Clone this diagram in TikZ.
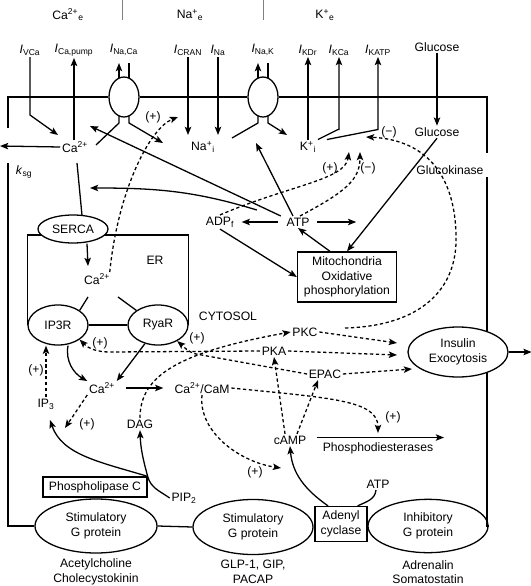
\documentclass[tikz,border=0pt]{standalone}
\usepackage{fontspec}
\setmainfont{Liberation Sans}
\usetikzlibrary{arrows.meta,shapes.geometric,calc}

\newcommand{\curr}[1]{\textit{I}\textsubscript{#1}}

\tikzset{
  lbl/.style={inner sep=1pt, align=center},
  oval/.style={ellipse, draw, fill=white, inner sep=0pt, align=center},
  plainbox/.style={rectangle, draw, fill=white, inner sep=0pt, align=center},
  dasharrow/.style={->, dash pattern=on 2.8pt off 2.2pt},
}

\begin{document}
\begin{tikzpicture}[x=0.03cm, y=-0.03cm, line width=1.1pt,
    >={Stealth[length=7pt,width=5.5pt,inset=1.5pt]},
    font=\fontsize{10.4}{12.5}\selectfont]
    \useasboundingbox (0,0) rectangle (531,586);

    % outside ions
    \node[lbl] (cae) at (68,15) {Ca\textsuperscript{2+}\textsubscript{e}};
    \node[lbl] (nae) at (190,15) {Na\textsuperscript{+}\textsubscript{e}};
    \node[lbl] (ke) at (325,15) {K\textsuperscript{+}\textsubscript{e}};
    \draw[gray, line width=0.8pt] (122,0) -- (122,20);
    \draw[gray, line width=0.8pt] (263,0) -- (263,20);

    % membrane currents
    \node[lbl] (ivca) at (30,50) {\curr{VCa}};
    \node[lbl] (icapump) at (74,50) {\curr{Ca,pump}};
    \node[lbl] (inaca) at (124,50) {\curr{Na,Ca}};
    \node[lbl] (icran) at (188,50) {\curr{CRAN}};
    \node[lbl] (ina) at (218,50) {\curr{Na}};
    \node[lbl] (inak) at (263,50) {\curr{Na,K}};
    \node[lbl] (ikdr) at (308,50) {\curr{KDr}};
    \node[lbl] (ikca) at (339,50) {\curr{KCa}};
    \node[lbl] (ikatp) at (378,50) {\curr{KATP}};
    \node[lbl] (glue) at (437,47) {Glucose};

    % G proteins at the bottom
    \node[oval, minimum width=3.66cm, minimum height=1.62cm] (stimL) at (96,526) {Stimulatory\\G protein};
    \node[oval, minimum width=3.6cm, minimum height=1.65cm] (stimM) at (253,527) {Stimulatory\\G protein};
    \node[plainbox, minimum width=1.56cm, minimum height=1.05cm] (ac) at (341,524) {Adenyl\\cyclase};
    \node[oval, minimum width=3.6cm, minimum height=1.6cm] (inhib) at (428,526) {Inhibitory\\G protein};
    \node[lbl] (ligL) at (96,572) {Acetylcholine\\Cholecystokinin};
    \node[lbl] (ligM) at (253,572) {GLP-1, GIP,\\PACAP};
    \node[lbl] (ligR) at (428,572) {Adrenalin\\Somatostatin};

    % cell membrane
    \node[oval, minimum width=0.9cm, minimum height=1.2cm] (nca) at (124,97) {};
    \node[oval, minimum width=0.9cm, minimum height=1.2cm] (nak) at (263,97) {};
    \draw (8,128) -- (8,97) -- (nca.west);
    \draw (nca.east) -- (nak.west);
    \draw (nak.east) -- (487,97) -- (487,153);
    \draw (8,163) |- (stimL.west);
    \draw (stimL.east) -- (stimM.west);
    \draw (487,177) |- (inhib.east);

    % exchanger and pump
    \begin{scope}[shift={(nca.center)}]
        \draw[->] (-5,-19) -- (-5,-34);
        \draw (5,-19) -- (5,-34);
        \draw (-5,19) -- (-5,26) -- (-28,48);
        \draw[->] (5,19) -- (5,26) -- (39,46);
    \end{scope}
    \begin{scope}[shift={(nak.center)}]
        \draw[->] (-5,-19) -- (-5,-34);
        \draw (5,-19) -- (5,-34);
        \draw (-5,19) -- (-5,26) -- (-31,41);
        \draw[->] (5,19) -- (5,26) -- (24,38);
    \end{scope}

    % cytosol
    \node[lbl] (cai) at (75,147) {Ca\textsuperscript{2+}};
    \node[lbl] (nai) at (203,147) {Na\textsuperscript{+}\textsubscript{i}};
    \node[lbl] (ki) at (308,147) {K\textsuperscript{+}\textsubscript{i}};
    \node[lbl] (glui) at (437,132) {Glucose};
    \node[lbl] (gk) at (450,170) {Glucokinase};
    \node[lbl] (ksg) at (24,172) {\textit{k}\textsubscript{sg}};
    \node[lbl] (adp) at (220,222) {ADP\textsubscript{f}};
    \node[lbl] (atp) at (298,222) {ATP};
    \node[plainbox, minimum width=2.97cm, minimum height=1.5cm] (mito) at (347,277) {Mitochondria\\Oxidative\\phosphorylation};
    \node[lbl] (cytosol) at (228,316) {CYTOSOL};

    % ER
    \node[lbl] (caer) at (97,279) {Ca\textsuperscript{2+}};
    \node[lbl] (er) at (155,260) {ER};
    \node[oval, minimum width=1.8cm, minimum height=1.2cm] (ip3r) at (58,325) {IP3R};
    \node[oval, minimum width=1.8cm, minimum height=1.2cm] (ryar) at (158,325) {RyaR};
    \coordinate (ertop) at (0,235);
    \draw (ip3r.west) -- (ip3r.west |- ertop) -- (ryar.east |- ertop) -- (ryar.east);
    \node[oval, minimum width=2.1cm, minimum height=0.84cm] (serca) at (73,229) {SERCA};

    % second messengers
    \node[lbl] (cac) at (102,388) {Ca\textsuperscript{2+}};
    \node[lbl] (cam) at (202,388) {Ca\textsuperscript{2+}/CaM};
    \node[lbl] (ip3) at (46,404) {IP\textsubscript{3}};
    \node[lbl] (dag) at (140,424) {DAG};
    \node[lbl] (pkc) at (305,332) {PKC};
    \node[lbl] (pka) at (274,351) {PKA};
    \node[lbl] (epac) at (325,374) {EPAC};
    \node[lbl] (camp) at (290,440) {cAMP};
    \node[lbl] (pde) at (378,448) {Phosphodiesterases};
    \node[lbl] (atpb) at (378,484) {ATP};
    \node[plainbox, minimum width=3.12cm, minimum height=0.6cm] (plc) at (95,487) {Phospholipase C};
    \node[lbl] (pip) at (184,498) {PIP\textsubscript{2}};
    \node[oval, minimum width=3cm, minimum height=1.5cm] (insulin) at (458,352) {Insulin\\Exocytosis};

    % signs
    \node[lbl] (s1) at (153,117) {(+)};
    \node[lbl] (s2) at (389,132) {(−)};
    \node[lbl] (s3) at (330,168) {(+)};
    \node[lbl] (s4) at (368,168) {(−)};
    \node[lbl] (s5) at (36,370) {(+)};
    \node[lbl] (s6) at (100,343) {(+)};
    \node[lbl] (s7) at (197,338) {(+)};
    \node[lbl] (s8) at (87,424) {(+)};
    \node[lbl] (s9) at (393,417) {(+)};
    \node[lbl] (s10) at (255,472) {(+)};

    % free ends
    \coordinate (vcaend) at (58,135);
    \coordinate (leak) at (0,146);
    \coordinate (nakin) at (256,143);
    \coordinate (caup) at (90,126);
    \coordinate (caleft) at (90,188);
    \coordinate (erup) at (178,117);
    \coordinate (kin1) at (349,152);
    \coordinate (kin2) at (360,152);
    \coordinate (kin3) at (366,137);
    \coordinate (gkstart) at (345,328);
    \coordinate (ins1) at (397,343);
    \coordinate (ins2) at (397,355);
    \coordinate (ins3) at (412,369);
    \coordinate (pdetip) at (378,433);
    \coordinate (camptip) at (281,468);
    \coordinate (ip3tip) at (65,428);
    \coordinate (ip3in) at (50,420);

    % calcium and sodium
    \draw[->] (ivca.south) -- ++(0,58) -- (vcaend);
    \draw[->] (icapump |- cai.north) -- (icapump.south);
    \draw[->] (cai.west) -- (leak);
    \draw ($(cai.south)+(2,9)$) -- ($(serca.north)+(9,1)$);
    \draw[->] (icran.south) -- ++(0,78);
    \draw[->] (ina.south) -- ++(0,78);

    % potassium
    \draw[->] (ikdr |- ki.north) -- (ikdr.south);
    \draw[->] (ki.north east) -- ++(20,-10) -| (ikca.south);
    \draw[->] ($(ki.north east)+(9,0)$) -- ++(51,-10) -| (ikatp.south);

    % glucose and ATP
    \draw[->] (glue.south) -- (glui.north);
    \draw[->] (glui.south) -- (mito.north);
    \draw[->, shorten <=6pt, shorten >=5pt] (atp.west) -- (adp.east);
    \draw[->, shorten <=5pt] (atp.east) -- ++(45,0);
    \draw[->] ($(atp.north)+(-5,0)$) -- (nakin);
    \draw[->] ($(atp.north west)+(-4,0)$) -- (caup);
    \draw[->] ($(atp.north west)+(-28,-6)$) to[out=163,in=0] (caleft);
    \draw[->] (adp.south) -- (mito.west);
    \draw[->] ($(mito.north)+(-17,0)$) -- (atp.south);

    % ER release
    \draw[->] ($(serca.south)+(14,0)$) -- ($(caer.north)+(-9,-6)$);
    \draw ($(caer.south)+(-9,11)$) -- (ip3r.north east);
    \draw ($(caer.south)+(21,11)$) -- (ryar.north west);
    \draw (ip3r) -- (ryar);
    \draw[->] ($(ip3r.south)+(10,0)$) to[out=-100,in=150] (cac.north west);
    \draw[->] (ryar.235) -- (cac.north east);
    \draw[->, shorten <=8pt, shorten >=8pt] (cac.east) -- (cac.east -| cam.west);

    % phospholipase C and adenyl cyclase
    \draw[->] (pip.west) to[out=145,in=-75] (plc.north east) to[out=105,in=-88] (dag.south);
    \draw[->] (plc.north east) .. controls (100,462) and (62,455) .. (ip3in);
    \draw[->] ($(ac.north)+(-13,0)$) to[out=145,in=-85] (camp.south);
    \draw ($(atpb.south)+(-2,0)$) to[out=-95,in=25] ($(ac.north east)+(-10,0)$);
    \draw[->] ($(pde.north west)+(-4,-3)$) -- ($(pde.north east)+(9,-3)$);
    \draw[->] (insulin.east) -- ++(23,0);

    % modulation
    \draw[dasharrow] ($(caer.north east)+(-2,0)$) .. controls (118,190) and (150,128) .. (erup);
    \draw[dasharrow] (adp.north) .. controls (290,185) and (345,180) .. (kin1);
    \draw[dasharrow] ($(atp.north)+(2,0)$) .. controls (345,192) and (360,180) .. (kin2);
    \draw[dasharrow] (gkstart) .. controls (420,326) and (458,290) .. (456,235)
        .. controls (455,180) and (430,140) .. (kin3);
    \draw[dasharrow] (dag.north) .. controls (140,375) and (180,352) .. (pkc.west);
    \draw[dasharrow] (pka.west) -- (110,352) to[out=180,in=-45] (ip3r.south east);
    \draw[dasharrow] (epac.west) -- (196,354) to[out=165,in=-40] (ryar.-40);
    \draw[dasharrow] (pkc.east) -- (ins1);
    \draw[dasharrow] (pka.east) -- (ins2);
    \draw[dasharrow] (epac.east) -- (ins3);
    \draw[dasharrow] ($(camp.north)+(-5,0)$) -- (pka.south);
    \draw[dasharrow] ($(camp.north)+(7,0)$) -- ($(epac.south)+(-7,0)$);
    \draw[dasharrow] (cam.east) .. controls (330,398) and (378,400) .. (pdetip);
    \draw[dasharrow] (cam.south) .. controls (198,432) and (240,462) .. (camptip);
    \draw[dasharrow] (cac.south west) -- (ip3tip);
    \draw[dasharrow] (ip3.north) -- (ip3.north |- ip3r.south);
\end{tikzpicture}
\end{document}
